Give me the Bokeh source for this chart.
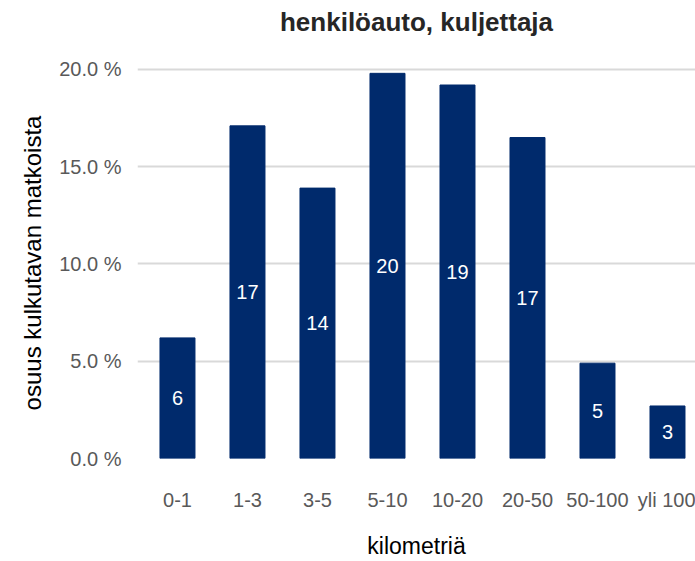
from bokeh.plotting import figure
from bokeh.models import ColumnDataSource, Range1d, FixedTicker, LabelSet, Title
from bokeh.core.properties import value
from bokeh.embed import file_html
from bokeh.resources import INLINE

categories = ["0-1", "1-3", "3-5", "5-10", "10-20", "20-50", "50-100", "yli 100"]
shares = [6.2, 17.1, 13.9, 19.8, 19.2, 16.5, 4.9, 2.7]
bar_labels = ["6", "17", "14", "20", "19", "17", "5", "3"]
y_ticks = [0, 5, 10, 15, 20]
y_tick_labels = ["0.0 %", "5.0 %", "10.0 %", "15.0 %", "20.0 %"]
title_text = "henkilöauto, kuljettaja"

FONT = "Liberation Sans"
NAVY = "#002A6C"

xs = list(range(len(categories)))
src = ColumnDataSource(dict(x=xs, top=shares, mid=[v / 2 for v in shares], lab=bar_labels))

p = figure(width=695, height=561, output_backend="svg", toolbar_location=None,
           title_location=None,
           x_range=Range1d(-0.571, 7.4), y_range=Range1d(0, 20.1),
           min_border_left=137, min_border_right=0, min_border_top=67, min_border_bottom=101)
p.outline_line_color = None
p.background_fill_color = "white"

# second (blank) line lifts the title away from the plot area
p.add_layout(Title(text=title_text + "\n ", align="center", vertical_align="bottom",
                   text_font=FONT, text_font_size="26px", text_font_style="bold",
                   text_color="#262626", text_line_height=1.0, standoff=2), "above")

p.vbar(x="x", top="top", width=0.5, source=src, color=NAVY)

labels = LabelSet(x="x", y="mid", text="lab", source=src, text_align="center",
                  text_baseline="middle", text_color="white", text_font_size="20px",
                  text_font=value(FONT))
p.add_layout(labels)

# y axis
p.yaxis.ticker = FixedTicker(ticks=y_ticks)
p.yaxis.major_label_overrides = {t: l for t, l in zip(y_ticks, y_tick_labels)}
p.yaxis.axis_line_color = None
p.yaxis.major_tick_line_color = None
p.yaxis.minor_tick_line_color = None
p.yaxis.major_label_text_font = FONT
p.yaxis.major_label_text_font_size = "20px"
p.yaxis.major_label_text_color = "#595959"
p.yaxis.major_label_standoff = 10
p.yaxis.axis_label = "osuus kulkutavan matkoista"
p.yaxis.axis_label_text_font = FONT
p.yaxis.axis_label_text_font_size = "24px"
p.yaxis.axis_label_text_font_style = "normal"
p.yaxis.axis_label_text_color = "black"
p.yaxis.axis_label_standoff = 10

# x axis
p.xaxis.ticker = FixedTicker(ticks=xs)
p.xaxis.major_label_overrides = {i: c for i, c in zip(xs, categories)}
p.xaxis.axis_line_color = None
p.xaxis.major_tick_line_color = None
p.xaxis.minor_tick_line_color = None
p.xaxis.major_label_text_font = FONT
p.xaxis.major_label_text_font_size = "20px"
p.xaxis.major_label_text_color = "#595959"
p.xaxis.major_label_standoff = 24
p.xaxis.axis_label = "kilometriä"
p.xaxis.axis_label_text_font = FONT
p.xaxis.axis_label_text_font_size = "23px"
p.xaxis.axis_label_text_font_style = "normal"
p.xaxis.axis_label_text_color = "black"
p.xaxis.axis_label_standoff = 19

p.xgrid.grid_line_color = None
p.ygrid.grid_line_color = "#D9D9D9"
p.ygrid.grid_line_width = 2

open("out.html", "w").write(file_html(p, INLINE))
